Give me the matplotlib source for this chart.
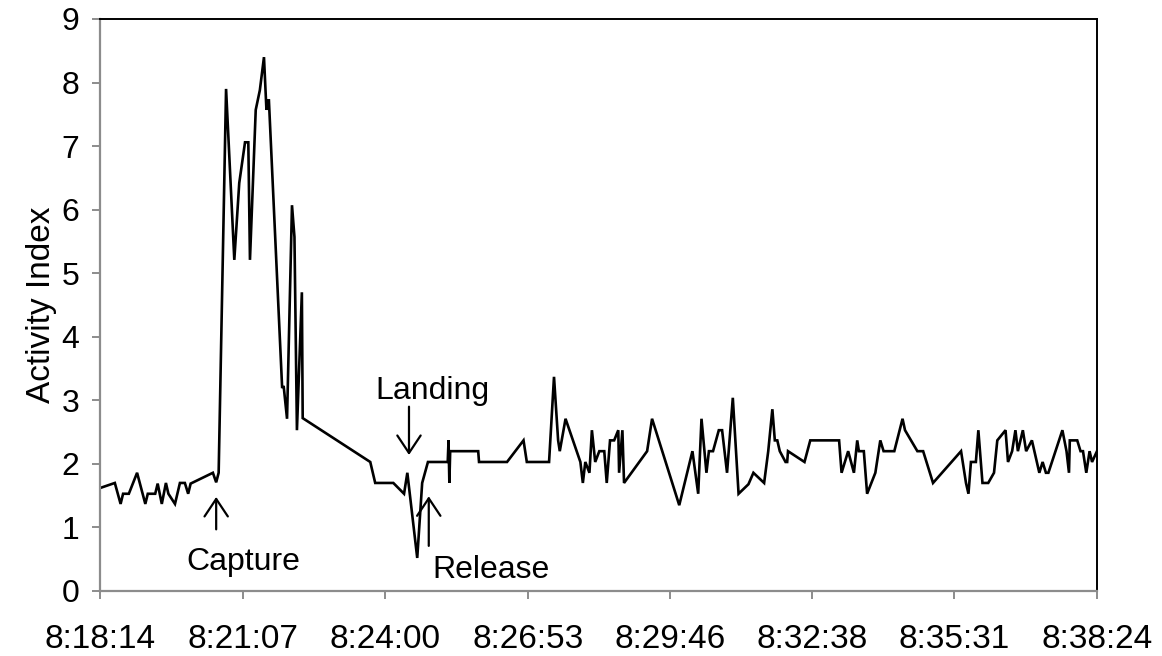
import matplotlib
matplotlib.use("Agg")
import matplotlib.pyplot as plt

plt.rcParams['font.family'] = ['Liberation Sans', 'DejaVu Sans']

# Data
times = [
    "8:18:14", "8:18:32", "8:18:39", "8:18:42", "8:18:49", "8:18:59", "8:19:09", "8:19:12",
    "8:19:21", "8:19:24", "8:19:29", "8:19:34", "8:19:37", "8:19:45", "8:19:51", "8:19:57",
    "8:20:01", "8:20:04", "8:20:31", "8:20:35", "8:20:38", "8:20:47", "8:20:57", "8:21:03",
    "8:21:10", "8:21:14", "8:21:16", "8:21:23", "8:21:28", "8:21:33", "8:21:36", "8:21:38",
    "8:21:39", "8:21:55", "8:21:57", "8:22:01", "8:22:07", "8:22:10", "8:22:13", "8:22:19",
    "8:22:20", "8:23:42", "8:23:48", "8:24:10", "8:24:23", "8:24:27", "8:24:39", "8:24:45",
    "8:24:52", "8:25:16", "8:25:17", "8:25:18", "8:25:19", "8:25:53", "8:25:54", "8:26:28",
    "8:26:48", "8:26:52", "8:27:19", "8:27:25", "8:27:30", "8:27:32", "8:27:39", "8:27:57",
    "8:28:00", "8:28:03", "8:28:08", "8:28:11", "8:28:15", "8:28:20", "8:28:26", "8:28:29",
    "8:28:33", "8:28:38", "8:28:43", "8:28:44", "8:28:48", "8:28:50", "8:29:18", "8:29:24",
    "8:29:57", "8:30:13", "8:30:20", "8:30:24", "8:30:30", "8:30:33", "8:30:38", "8:30:45",
    "8:30:49", "8:30:55", "8:31:02", "8:31:09", "8:31:21", "8:31:27", "8:31:40", "8:31:45",
    "8:31:50", "8:31:53", "8:31:56", "8:31:59", "8:32:06", "8:32:08", "8:32:09", "8:32:29",
    "8:32:36", "8:33:11", "8:33:14", "8:33:22", "8:33:29", "8:33:33", "8:33:35", "8:33:41",
    "8:33:45", "8:33:55", "8:34:01", "8:34:05", "8:34:18", "8:34:28", "8:34:31", "8:34:46",
    "8:34:53", "8:35:05", "8:35:39", "8:35:45", "8:35:48", "8:35:51", "8:35:57", "8:36:00",
    "8:36:05", "8:36:12", "8:36:19", "8:36:23", "8:36:33", "8:36:36", "8:36:41", "8:36:45",
    "8:36:48", "8:36:54", "8:36:58", "8:37:05", "8:37:14", "8:37:18", "8:37:22", "8:37:25",
    "8:37:42", "8:37:47", "8:37:50", "8:37:51", "8:38:00", "8:38:04", "8:38:07", "8:38:11",
    "8:38:15", "8:38:18", "8:38:24",
]
activity = [
    1.62, 1.70, 1.37, 1.53, 1.53, 1.86, 1.37, 1.53,
    1.53, 1.69, 1.37, 1.70, 1.53, 1.37, 1.70, 1.70,
    1.53, 1.69, 1.86, 1.71, 1.86, 7.90, 5.21, 6.42,
    7.06, 7.06, 5.21, 7.57, 7.88, 8.40, 7.57, 7.72,
    7.72, 3.21, 3.21, 2.71, 6.07, 5.57, 2.53, 4.70,
    2.72, 2.03, 1.70, 1.70, 1.53, 1.86, 0.52, 1.70,
    2.03, 2.03, 2.37, 1.70, 2.20, 2.20, 2.03, 2.03,
    2.37, 2.03, 2.03, 3.37, 2.37, 2.20, 2.71, 2.03,
    1.70, 2.03, 1.86, 2.53, 2.03, 2.20, 2.20, 1.70,
    2.37, 2.37, 2.53, 1.86, 2.53, 1.70, 2.20, 2.71,
    1.35, 2.20, 1.53, 2.71, 1.86, 2.20, 2.20, 2.53,
    2.53, 1.86, 3.04, 1.53, 1.68, 1.86, 1.70, 2.20,
    2.86, 2.37, 2.37, 2.20, 2.03, 2.03, 2.20, 2.03,
    2.37, 2.37, 1.86, 2.20, 1.86, 2.37, 2.20, 2.20,
    1.53, 1.86, 2.37, 2.20, 2.20, 2.71, 2.53, 2.20,
    2.20, 1.70, 2.20, 1.70, 1.53, 2.03, 2.03, 2.53,
    1.70, 1.70, 1.86, 2.37, 2.53, 2.03, 2.20, 2.53,
    2.20, 2.53, 2.20, 2.37, 1.86, 2.03, 1.86, 1.86,
    2.53, 2.20, 1.86, 2.37, 2.37, 2.20, 2.20, 1.86,
    2.20, 2.03, 2.20,
]
x_tick_labels = ["8:18:14", "8:21:07", "8:24:00", "8:26:53", "8:29:46", "8:32:38", "8:35:31", "8:38:24"]
y_ticks = [0, 1, 2, 3, 4, 5, 6, 7, 8, 9]

events = ["Capture", "Landing", "Release"]
event_times = ["8:20:35", "8:24:29", "8:24:53"]


def to_sec(s):
    h, m, sec = (int(p) for p in s.split(":"))
    return h * 3600 + m * 60 + sec


t0 = to_sec(x_tick_labels[0])
xs = [to_sec(t) - t0 for t in times]
xt = [to_sec(t) - t0 for t in x_tick_labels]
ev = [to_sec(t) - t0 for t in event_times]

fig = plt.figure(figsize=(11.62, 6.56), dpi=100)
ax = fig.add_axes([100 / 1162, 1 - 591 / 656, 997 / 1162, 572 / 656])

ax.plot(xs, activity, color="black", lw=1.9, solid_joinstyle="miter")

ax.set_xlim(xt[0], xt[-1])
ax.set_ylim(0, 9)
ax.set_xticks(xt)
ax.set_xticklabels(x_tick_labels)
ax.set_yticks(y_ticks)
fs = 23
ax.set_ylabel("Activity Index", fontsize=24)
ax.yaxis.set_label_coords(-43 / 997, 0.5)

gray = "#8c8c8c"
for side in ["left", "bottom"]:
    ax.spines[side].set_color(gray)
    ax.spines[side].set_linewidth(1.6)
for side in ["top", "right"]:
    ax.spines[side].set_color("black")
    ax.spines[side].set_linewidth(1.4)
ax.tick_params(axis="both", direction="out", length=6, width=1.4, color=gray)
ax.tick_params(axis="x", pad=18, labelsize=24)
ax.tick_params(axis="y", pad=9, labelsize=fs)

arrow = dict(arrowstyle="->,head_length=0.45,head_width=0.3", lw=1.6,
             color="black", mutation_scale=28, shrinkA=0, shrinkB=0)
# Capture (arrow pointing up)
ax.annotate("", xy=(ev[0], 1.48), xytext=(ev[0], 0.97), arrowprops=arrow)
ax.text(ev[0] + 33, 0.46, events[0], fontsize=fs, ha="center", va="center")
# Landing (arrow pointing down)
ax.annotate("", xy=(ev[1], 2.14), xytext=(ev[1], 2.9), arrowprops=arrow)
ax.text(ev[1] + 28, 3.15, events[1], fontsize=fs, ha="center", va="center")
# Release (arrow pointing up)
ax.annotate("", xy=(ev[2], 1.49), xytext=(ev[2], 0.71), arrowprops=arrow)
ax.text(ev[2] + 75, 0.33, events[2], fontsize=fs, ha="center", va="center")

fig.savefig("out.png", dpi=100, facecolor="white")
